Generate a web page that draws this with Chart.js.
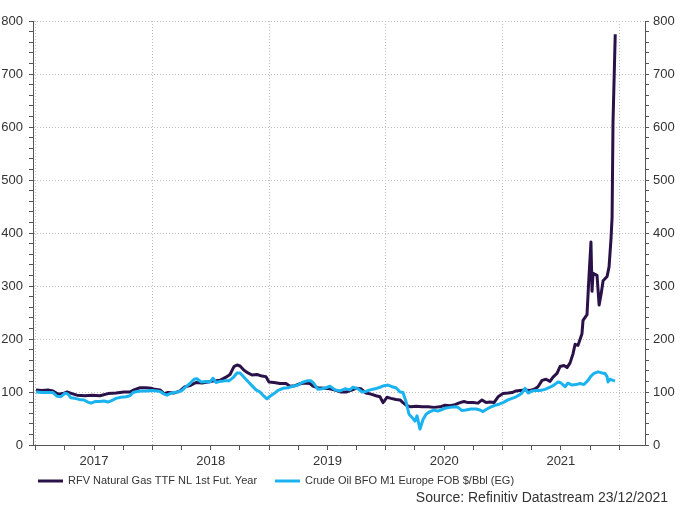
<!DOCTYPE html>
<html><head><meta charset="utf-8">
<script src="https://cdn.jsdelivr.net/npm/chart.js@4.4.0/dist/chart.umd.min.js"></script>
<style>html,body{margin:0;padding:0;background:#fff}#wrap{width:680px;height:506px}</style>
</head><body><div id="wrap"><canvas id="c" width="680" height="506"></canvas></div>
<script>
const years = [2017, 2018, 2019, 2020, 2021];
const seriesNames = ['RFV Natural Gas TTF NL 1st Fut. Year', 'Crude Oil BFO M1 Europe FOB $/Bbl (EG)'];
const sourceNote = 'Source: Refinitiv Datastream 23/12/2021';
const yMajorTicks = [0, 100, 200, 300, 400, 500, 600, 700, 800];

const gasYears = [2017.003, 2017.054, 2017.105, 2017.148, 2017.191, 2017.234, 2017.268, 2017.311, 2017.354, 2017.422,
  2017.482, 2017.551, 2017.620, 2017.688, 2017.757, 2017.808, 2017.842, 2017.894, 2017.945, 2017.988,
  2018.022, 2018.065, 2018.099, 2018.134, 2018.185, 2018.237, 2018.279, 2018.322, 2018.374, 2018.425,
  2018.476, 2018.528, 2018.579, 2018.631, 2018.665, 2018.699, 2018.725, 2018.751, 2018.785, 2018.819,
  2018.853, 2018.896, 2018.939, 2018.973, 2018.999, 2019.042, 2019.093, 2019.145, 2019.179, 2019.222,
  2019.256, 2019.299, 2019.351, 2019.376, 2019.419, 2019.471, 2019.522, 2019.573, 2019.616, 2019.659,
  2019.702, 2019.745, 2019.788, 2019.830, 2019.873, 2019.916, 2019.950, 2019.976, 2020.010, 2020.045,
  2020.087, 2020.122, 2020.147, 2020.182, 2020.216, 2020.259, 2020.310, 2020.362, 2020.413, 2020.465,
  2020.507, 2020.550, 2020.593, 2020.636, 2020.670, 2020.704, 2020.747, 2020.790, 2020.824, 2020.859,
  2020.893, 2020.927, 2020.962, 2021.004, 2021.047, 2021.082, 2021.116, 2021.150, 2021.193, 2021.236,
  2021.279, 2021.304, 2021.339, 2021.373, 2021.407, 2021.433, 2021.467, 2021.493, 2021.527, 2021.553,
  2021.579, 2021.604, 2021.622, 2021.647, 2021.681, 2021.690, 2021.724, 2021.741, 2021.758, 2021.767,
  2021.776, 2021.793, 2021.810, 2021.828, 2021.845, 2021.862, 2021.896, 2021.913, 2021.930, 2021.939,
  2021.947, 2021.966];
const gasValues = [104, 103, 104, 102, 96, 97, 100, 97, 94, 93,
  94, 93, 97, 98, 100, 100, 104, 108, 108, 107,
  105, 104, 97, 99, 98, 102, 110, 112, 118, 117,
  119, 121, 122, 128, 133, 148, 151, 149, 141, 136,
  132, 133, 130, 129, 119, 118, 116, 116, 111, 112,
  115, 117, 116, 111, 108, 107, 106, 103, 100, 100,
  103, 107, 106, 98, 96, 93, 91, 80, 90, 88,
  86, 85, 80, 74, 72, 73, 72, 72, 71, 72,
  75, 74, 76, 80, 82, 80, 80, 79, 85, 80,
  81, 80, 91, 97, 98, 99, 102, 103, 104, 103,
  106, 110, 122, 124, 120, 128, 135, 148, 150, 146,
  155, 172, 190, 188, 210, 235, 246, 318, 383, 290,
  324, 322, 320, 264, 285, 310, 318, 336, 390, 430,
  610, 775];

const oilYears = [2017.003, 2017.054, 2017.105, 2017.148, 2017.183, 2017.217, 2017.251, 2017.277, 2017.302, 2017.337,
  2017.371, 2017.414, 2017.448, 2017.474, 2017.508, 2017.551, 2017.585, 2017.620, 2017.654, 2017.688,
  2017.731, 2017.774, 2017.808, 2017.834, 2017.868, 2017.911, 2017.954, 2017.997, 2018.039, 2018.065,
  2018.099, 2018.125, 2018.151, 2018.185, 2018.219, 2018.254, 2018.288, 2018.322, 2018.357, 2018.382,
  2018.417, 2018.459, 2018.494, 2018.519, 2018.545, 2018.579, 2018.622, 2018.656, 2018.691, 2018.725,
  2018.751, 2018.785, 2018.819, 2018.853, 2018.888, 2018.922, 2018.956, 2018.982, 2019.008, 2019.042,
  2019.076, 2019.119, 2019.162, 2019.205, 2019.248, 2019.282, 2019.325, 2019.359, 2019.376, 2019.419,
  2019.453, 2019.488, 2019.522, 2019.565, 2019.608, 2019.650, 2019.693, 2019.719, 2019.762, 2019.796,
  2019.830, 2019.865, 2019.908, 2019.950, 2019.985, 2020.019, 2020.053, 2020.087, 2020.122, 2020.147,
  2020.173, 2020.199, 2020.225, 2020.250, 2020.268, 2020.293, 2020.319, 2020.345, 2020.379, 2020.413,
  2020.447, 2020.482, 2020.516, 2020.550, 2020.593, 2020.619, 2020.653, 2020.687, 2020.730, 2020.773,
  2020.807, 2020.833, 2020.867, 2020.902, 2020.936, 2020.970, 2021.004, 2021.047, 2021.082, 2021.116,
  2021.141, 2021.167, 2021.193, 2021.219, 2021.253, 2021.287, 2021.322, 2021.364, 2021.407, 2021.441,
  2021.476, 2021.501, 2021.536, 2021.561, 2021.596, 2021.630, 2021.664, 2021.698, 2021.733, 2021.758,
  2021.784, 2021.818, 2021.853, 2021.878, 2021.896, 2021.904, 2021.921, 2021.947, 2021.964];
const oilValues = [100, 99, 99, 99, 92, 91, 98, 96, 89, 88,
  86, 85, 81, 79, 82, 82, 83, 81, 84, 88,
  90, 91, 93, 99, 101, 102, 102, 103, 102, 101,
  96, 94, 97, 99, 100, 103, 110, 116, 124, 125,
  119, 120, 119, 126, 118, 120, 121, 121, 127, 136,
  136, 128, 120, 112, 104, 100, 92, 87, 92, 97,
  103, 107, 108, 111, 113, 118, 121, 121, 118, 105,
  106, 108, 111, 104, 102, 106, 104, 109, 106, 100,
  101, 104, 106, 109, 112, 113, 110, 108, 100, 99,
  82, 58, 52, 45, 55, 30, 48, 58, 63, 66,
  64, 67, 70, 71, 72, 71, 65, 66, 68, 68,
  66, 63, 68, 72, 75, 77, 80, 85, 88, 91,
  94, 98, 107, 98, 102, 103, 103, 105, 109, 113,
  119, 117, 110, 117, 113, 114, 116, 114, 122, 130,
  135, 138, 136, 135, 129, 119, 124, 122, 121];

const GAS_COLOR = '#2a1248';
const OIL_COLOR = '#1ab3f0';
const AXIS_COLOR = '#555555';
const GRID_COLOR = '#bdbdbd';
const TEXT_COLOR = '#333333';
const FONT = '"Liberation Sans", Arial, sans-serif';

const xTickValues = [];
years.forEach(y => { for (let q = 0; q < 4; q++) xTickValues.push(y + q / 4); });
xTickValues.push(years[years.length - 1] + 1);
const yTickValues = [];
for (let v = yMajorTicks[0]; v <= yMajorTicks[yMajorTicks.length - 1]; v += 20) yTickValues.push(v);

const toPoints = (xs, ys) => xs.map((x, i) => ({x: x, y: ys[i]}));

const legendPlugin = {
  id: 'customLegend',
  afterDraw(chart) {
    const ctx = chart.ctx;
    ctx.save();
    const items = [
      {color: GAS_COLOR, text: seriesNames[0], x0: 38},
      {color: OIL_COLOR, text: seriesNames[1], x0: 275}
    ];
    ctx.font = '11px ' + FONT;
    ctx.textBaseline = 'middle';
    ctx.textAlign = 'left';
    items.forEach(it => {
      ctx.strokeStyle = it.color;
      ctx.lineWidth = 3;
      ctx.beginPath();
      ctx.moveTo(it.x0, 481);
      ctx.lineTo(it.x0 + 25, 481);
      ctx.stroke();
      ctx.fillStyle = TEXT_COLOR;
      ctx.fillText(it.text, it.x0 + 30, 481);
    });
    ctx.font = '14px ' + FONT;
    ctx.textAlign = 'right';
    ctx.fillText(sourceNote, 668, 498);
    ctx.restore();
  }
};

new Chart(document.getElementById('c'), {
  type: 'line',
  data: {
    datasets: [
      {label: seriesNames[0], data: toPoints(gasYears, gasValues), borderColor: GAS_COLOR, borderWidth: 3,
        pointRadius: 0, tension: 0, fill: false, order: 1, borderJoinStyle: 'round', yAxisID: 'y'},
      {label: seriesNames[1], data: toPoints(oilYears, oilValues), borderColor: OIL_COLOR, borderWidth: 3,
        pointRadius: 0, tension: 0, fill: false, order: 0, borderJoinStyle: 'round', yAxisID: 'y'}
    ]
  },
  options: {
    responsive: false,
    animation: false,
    devicePixelRatio: 1,
    layout: {padding: {top: 21, bottom: 36, left: 0, right: 0}},
    plugins: {legend: {display: false}, tooltip: {enabled: false}},
    scales: {
      x: {
        type: 'linear', position: 'bottom', min: 2016.977, max: 2022.221,
        afterBuildTicks: s => { s.ticks = xTickValues.map(v => ({value: v})); },
        afterFit: s => { s.height = 25; },
        grid: {
          color: c => (c.tick && Math.abs(c.tick.value - Math.round(c.tick.value)) < 1e-6) ? GRID_COLOR : 'rgba(0,0,0,0)',
          lineWidth: 1, drawTicks: true, tickLength: 5, tickColor: AXIS_COLOR, tickBorderDash: [], tickWidth: 1
        },
        border: {display: true, color: AXIS_COLOR, width: 1, dash: [1, 2]},
        ticks: {
          autoSkip: false, maxRotation: 0, minRotation: 0, padding: 4, color: TEXT_COLOR,
          font: {family: FONT, size: 13},
          callback: v => (Math.abs((v % 1) - 0.5) < 1e-6 ? String(Math.floor(v)) : '')
        }
      },
      y: {
        position: 'left', min: 0, max: 800,
        afterBuildTicks: s => { s.ticks = yTickValues.map(v => ({value: v})); },
        afterFit: s => { s.width = 33; },
        grid: {
          color: c => (c.tick && c.tick.value % 100 === 0) ? GRID_COLOR : 'rgba(0,0,0,0)',
          lineWidth: 1, drawTicks: true, tickLength: 4, tickColor: AXIS_COLOR, tickBorderDash: [], tickWidth: 1
        },
        border: {display: true, color: AXIS_COLOR, width: 1, dash: [1, 2]},
        ticks: {
          autoSkip: false, padding: 6, color: TEXT_COLOR, font: {family: FONT, size: 13},
          callback: v => (yMajorTicks.includes(v) ? String(v) : '')
        }
      },
      y2: {
        position: 'right', min: 0, max: 800,
        afterBuildTicks: s => { s.ticks = yTickValues.map(v => ({value: v})); },
        afterFit: s => { s.width = 35; },
        grid: {drawOnChartArea: false, drawTicks: true, tickLength: 4, tickColor: AXIS_COLOR, tickBorderDash: [], tickWidth: 1},
        border: {display: true, color: AXIS_COLOR, width: 1},
        ticks: {
          autoSkip: false, padding: 4, color: TEXT_COLOR, font: {family: FONT, size: 13},
          callback: v => (yMajorTicks.includes(v) ? String(v) : '')
        }
      }
    }
  },
  plugins: [legendPlugin]
});
</script>
</body></html>
